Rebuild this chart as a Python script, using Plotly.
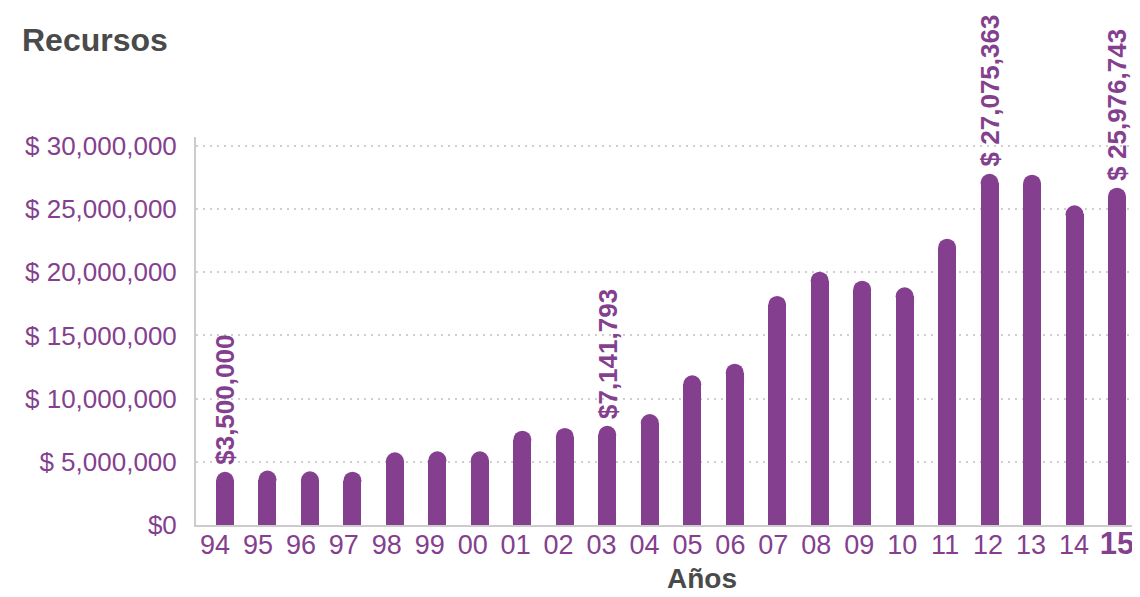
import plotly.graph_objects as go

years = ["94", "95", "96", "97", "98", "99", "00", "01", "02", "03", "04",
         "05", "06", "07", "08", "09", "10", "11", "12", "13", "14", "15"]
recursos = [3500000, 3600000, 3540000, 3510000, 5040000, 5120000, 5120000,
            6750000, 6970000, 7141793, 8070000, 11130000, 12050000, 17410000,
            19330000, 18620000, 18100000, 21940000, 27075363, 27010000,
            24580000, 25976743]
labels = {"94": "$3,500,000", "03": "$7,141,793",
          "12": "$ 27,075,363", "15": "$ 25,976,743"}
y_ticks = [0, 5000000, 10000000, 15000000, 20000000, 25000000, 30000000]
y_ticktext = ["$0", "$ 5,000,000", "$ 10,000,000", "$ 15,000,000",
              "$ 20,000,000", "$ 25,000,000", "$ 30,000,000"]

PURPLE = "#843F8F"
GRAY_TXT = "#4A4A4A"
FONT = "Liberation Sans, Arial, sans-serif"

# the page body has an 8px margin, so the figure is drawn 8px right/down
W, H = 1132, 589

xs = list(range(len(years)))
ticktext = [y if y != "15" else "<b><span style='font-size:31px'>15</span></b>"
            for y in years]

fig = go.Figure()
fig.add_trace(go.Bar(x=xs, y=recursos, width=0.4237,
                     marker=dict(color=PURPLE, line=dict(width=0)),
                     hoverinfo="skip", showlegend=False))
fig.add_trace(go.Scatter(x=xs, y=recursos, mode="markers",
                         marker=dict(size=18, color=PURPLE, line=dict(width=0)),
                         cliponaxis=False, hoverinfo="skip", showlegend=False))
# carrier for the year-label axis (invisible)
fig.add_trace(go.Scatter(x=xs, y=recursos, xaxis="x2", mode="markers",
                         marker=dict(opacity=0, size=1), hoverinfo="skip",
                         showlegend=False))

for i, (yr, v) in enumerate(zip(years, recursos)):
    if yr in labels:
        fig.add_annotation(x=i, y=v, text="<b>" + labels[yr] + "</b>",
                           textangle=-90, xanchor="center", yanchor="bottom",
                           yshift=14, showarrow=False,
                           font=dict(family=FONT, size=26, color=PURPLE))

fig.add_annotation(xref="paper", yref="paper", x=0.5406, y=-0.1366,
                   text="<b>Años</b>", showarrow=False, xanchor="center",
                   yanchor="middle",
                   font=dict(family=FONT, size=28, color=GRAY_TXT))

fig.update_layout(
    width=W, height=H,
    margin=dict(l=188, r=8, t=129, b=72, pad=0, autoexpand=False),
    paper_bgcolor="white", plot_bgcolor="white",
    bargap=0,
    title=dict(text="<b>Recursos</b>", x=14 / W, xanchor="left",
               xref="container", y=1 - 32 / H, yanchor="middle",
               yref="container",
               font=dict(family=FONT, size=32, color=GRAY_TXT)),
    xaxis=dict(range=[-0.683, 21.353], tickvals=xs, showticklabels=False,
               showgrid=False, zeroline=False, showline=True,
               linecolor="#CCCCCC", linewidth=2, ticks="", automargin=False),
    xaxis2=dict(range=[-0.4424, 21.351], overlaying="x", anchor="y",
                side="bottom", tickvals=xs, ticktext=ticktext,
                showgrid=False, zeroline=False, showline=False, ticks="",
                ticklabelstandoff=1, automargin=False,
                tickfont=dict(family=FONT, size=27, color=PURPLE)),
    yaxis=dict(range=[0, 30700000], tickvals=y_ticks, ticktext=y_ticktext,
               showgrid=True, gridcolor="#CFCFCF", griddash="2px,5px",
               gridwidth=2, zeroline=False, showline=True,
               linecolor="#CCCCCC", linewidth=2, ticks="",
               ticklabelstandoff=12, automargin=False,
               tickfont=dict(family=FONT, size=26, color=PURPLE)),
)

fig.write_html("out.html")
